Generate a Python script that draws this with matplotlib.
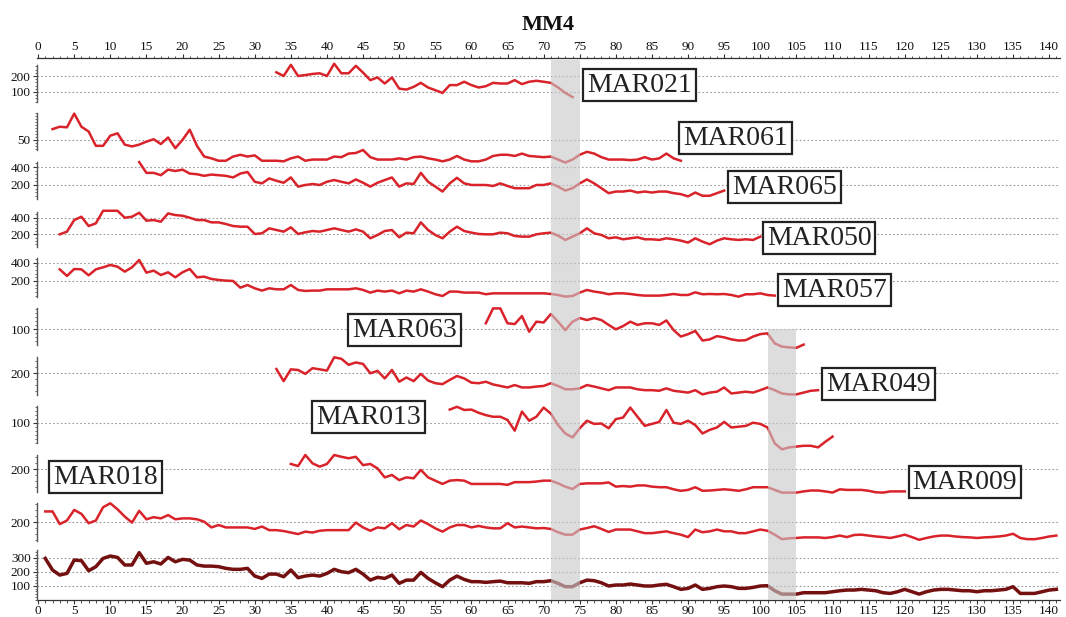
import numpy as np
import matplotlib
matplotlib.use("Agg")
import matplotlib.pyplot as plt
from matplotlib.ticker import MultipleLocator

# ---------------- data ----------------
TITLE = "MM4"
X_TICKS = list(range(0, 141, 5))

MAR021_START = 33
MAR021 = [223, 200, 270, 200, 206, 213, 217, 200, 277, 217, 217, 264, 221, 174, 191, 153, 191, 121, 115,
          132, 157, 128, 111, 94, 143, 143, 164, 143, 128, 136, 157, 153, 153, 174, 149, 164, 170, 164,
          157, 128, 94, 68]

MAR061_START = 2
MAR061 = [68, 72, 71, 94, 72, 64, 40, 40, 57, 61, 42, 39, 42, 47, 51, 43, 54, 36, 50, 67, 40, 22, 19, 15,
          15, 22, 25, 22, 24, 15, 15, 15, 14, 19, 22, 15, 17, 17, 17, 22, 21, 27, 28, 33, 21, 17, 17, 17,
          19, 17, 21, 22, 19, 17, 14, 17, 23, 17, 14, 14, 17, 23, 25, 25, 23, 27, 23, 22, 21, 22, 17, 12,
          17, 25, 30, 27, 21, 17, 17, 17, 16, 17, 21, 17, 19, 27, 19, 15]

MAR065_START = 14
MAR065 = [455, 335, 335, 309, 371, 356, 371, 327, 320, 302, 316, 309, 302, 284, 327, 345, 236, 218, 273,
          247, 225, 284, 182, 200, 211, 200, 236, 255, 236, 218, 262, 225, 182, 225, 255, 284, 182, 218,
          211, 335, 236, 182, 127, 218, 280, 218, 200, 200, 200, 189, 218, 189, 164, 164, 164, 200, 200,
          218, 182, 138, 164, 218, 262, 218, 164, 109, 127, 127, 138, 116, 127, 116, 127, 127, 109, 98,
          73, 116, 80, 80, 109, 138]

MAR050_START = 3
MAR050 = [200, 232, 372, 412, 300, 332, 484, 484, 484, 400, 412, 460, 364, 372, 352, 452, 432, 424, 400,
          372, 372, 344, 344, 324, 300, 292, 292, 204, 212, 272, 252, 232, 284, 204, 224, 240, 232, 252,
          272, 252, 232, 260, 232, 152, 192, 240, 252, 164, 220, 212, 344, 252, 192, 152, 232, 292, 240,
          220, 204, 200, 200, 220, 212, 180, 172, 172, 200, 212, 220, 184, 132, 172, 212, 272, 212, 192,
          152, 164, 140, 152, 164, 140, 140, 132, 152, 140, 124, 100, 152, 112, 80, 124, 152, 140, 132,
          140, 132, 172]

MAR057_START = 3
MAR057 = [327, 255, 331, 327, 262, 327, 349, 375, 356, 302, 349, 429, 291, 313, 265, 295, 240, 295, 331,
          240, 247, 222, 211, 204, 200, 127, 156, 120, 95, 120, 109, 109, 156, 102, 91, 95, 95, 109, 109,
          109, 109, 120, 102, 73, 95, 84, 95, 65, 95, 84, 109, 84, 55, 36, 84, 84, 73, 73, 73, 55, 65, 65,
          65, 65, 65, 65, 65, 65, 58, 47, 29, 36, 73, 102, 84, 73, 55, 65, 65, 58, 47, 40, 40, 40, 47, 58,
          47, 47, 76, 55, 58, 55, 58, 47, 29, 55, 55, 65, 47, 40]

MAR063_START = 62
MAR063 = [115, 152, 152, 115, 113, 133, 94, 119, 117, 138, 119, 98, 119, 128, 123, 128, 123, 111, 100,
          108, 119, 111, 115, 115, 111, 122, 98, 82, 88, 96, 72, 75, 83, 80, 75, 72, 73, 82, 88, 90, 65,
          57, 55, 54, 62]

MAR049_START = 33
MAR049 = [214, 174, 213, 211, 198, 217, 213, 209, 253, 248, 228, 236, 231, 200, 208, 183, 211, 172, 186,
          174, 198, 176, 167, 164, 178, 191, 183, 169, 167, 172, 163, 158, 153, 161, 153, 153, 156, 158,
          167, 158, 147, 147, 150, 161, 156, 150, 144, 153, 153, 153, 147, 144, 144, 142, 150, 142, 139,
          136, 144, 130, 136, 139, 153, 133, 136, 139, 136, 144, 153, 144, 133, 130, 130, 136, 142, 144]

MAR013_START = 57
MAR013 = [133, 140, 132, 133, 125, 119, 115, 115, 107, 80, 128, 105, 115, 138, 123, 94, 73, 63, 86, 105,
          97, 98, 86, 109, 113, 138, 115, 92, 97, 102, 132, 100, 97, 105, 94, 73, 82, 88, 102, 88, 90, 92,
          100, 97, 88, 48, 33, 38, 40, 42, 42, 38, 52, 65]

MAR009_START = 35
MAR009 = [218, 211, 248, 220, 209, 218, 248, 242, 237, 242, 214, 218, 203, 173, 181, 164, 173, 170, 198,
          173, 162, 151, 162, 164, 162, 151, 151, 151, 151, 151, 148, 157, 157, 157, 159, 162, 162, 153,
          142, 134, 151, 153, 153, 153, 156, 142, 144, 142, 146, 146, 142, 140, 140, 133, 128, 131, 140,
          128, 129, 131, 133, 131, 128, 133, 140, 140, 140, 131, 122, 122, 122, 126, 129, 129, 126, 122,
          133, 131, 131, 131, 128, 123, 122, 126, 126, 126]

MAR018_START = 1
MAR018 = [236, 236, 194, 206, 241, 228, 197, 206, 250, 263, 243, 219, 199, 238, 210, 217, 213, 224, 210,
          213, 213, 210, 202, 183, 191, 183, 183, 183, 183, 178, 186, 174, 174, 171, 166, 161, 169, 166,
          172, 174, 174, 174, 174, 199, 183, 172, 183, 180, 197, 177, 191, 186, 206, 194, 180, 169, 183,
          191, 191, 183, 188, 183, 180, 180, 197, 183, 186, 183, 180, 181, 178, 167, 159, 159, 176, 181,
          187, 178, 168, 176, 176, 176, 170, 164, 164, 167, 170, 164, 159, 151, 176, 167, 170, 176, 170,
          170, 164, 164, 170, 176, 172, 159, 144, 147, 148, 150, 150, 150, 148, 151, 156, 151, 158, 159,
          156, 153, 151, 148, 153, 159, 151, 142, 148, 153, 156, 156, 153, 151, 150, 148, 150, 151, 153,
          156, 162, 148, 144, 144, 148, 153, 156]

MM4_START = 1
MM4 = [295, 212, 176, 188, 283, 279, 207, 236, 295, 312, 302, 248, 248, 336, 260, 271, 255, 302, 271,
       288, 283, 248, 240, 240, 236, 224, 217, 217, 224, 169, 152, 183, 183, 164, 212, 157, 169, 176, 169,
       188, 217, 200, 193, 217, 183, 140, 160, 152, 176, 117, 140, 140, 195, 152, 121, 93, 140, 169, 145,
       129, 129, 124, 129, 133, 121, 121, 121, 117, 129, 129, 136, 117, 93, 93, 121, 140, 136, 121, 98,
       105, 105, 112, 105, 98, 98, 105, 110, 93, 74, 81, 105, 74, 81, 93, 98, 93, 81, 81, 88, 98, 100,
       64, 40, 40, 40, 50, 50, 50, 50, 57, 64, 69, 69, 74, 69, 64, 50, 45, 57, 74, 57, 40, 57, 69, 74,
       74, 69, 64, 64, 57, 64, 64, 69, 74, 93, 45, 45, 45, 57, 69, 74]

# track name, start, values, y-limits, y-ticks
TRACKS = [
    ("MAR021", MAR021_START, MAR021, (37, 269), [100, 200]),
    ("MAR061", MAR061_START, MAR061, (33, 95), [50]),
    ("MAR065", MAR065_START, MAR065, (44, 456), [200, 400]),
    ("MAR050", MAR050_START, MAR050, (47, 469), [200, 400]),
    ("MAR057", MAR057_START, MAR057, (25, 451), [200, 400]),
    ("MAR063", MAR063_START, MAR063, (61, 153), [100]),
    ("MAR049", MAR049_START, MAR049, (128, 254), [200]),
    ("MAR013", MAR013_START, MAR013, (49, 142), [100]),
    ("MAR009", MAR009_START, MAR009, (124, 248), [200]),
    ("MAR018", MAR018_START, MAR018, (138, 264), [200]),
    ("MM4", MM4_START, MM4, (-2, 355), [100, 200, 300]),
]

BANDS = [(71, 75), (101, 105)]

# ---------------- layout (pixels) ----------------
W, H = 1066, 617
LEFT_PX, RIGHT_PX = 37, 1060
TOP_PX, BOT_PX = 58, 600
TRACK_PX = [(65, 102), (113, 150), (162, 199), (212, 247), (258, 297), (308, 345),
            (357, 395), (406, 443), (455, 492), (503, 541), (550, 600)]
BAND_TOP_PX = [60, 329]
LABEL_POS = {  # left edge (data x), centre (pixel row)
    "MAR021": (76.0, 85), "MAR061": (89.3, 138), "MAR065": (96.1, 187), "MAR050": (100.9, 238),
    "MAR057": (103.0, 290), "MAR063": (43.5, 330), "MAR049": (109.1, 384), "MAR013": (38.5, 417),
    "MAR009": (121.1, 482), "MAR018": (2.1, 477),
}
XLIM = (-0.15, 141.5)
RED = "#d9232b"
DARK = "#741010"
SERIF = ["Liberation Serif", "DejaVu Serif"]

plt.rcParams["font.family"] = SERIF


def rect(top_px, bot_px):
    return [LEFT_PX / W, 1 - bot_px / H, (RIGHT_PX - LEFT_PX) / W, (bot_px - top_px) / H]


fig = plt.figure(figsize=(W / 100, H / 100), dpi=100)

# background axes carrying the x axis (top & bottom)
bg = fig.add_axes(rect(TOP_PX, BOT_PX), zorder=0)
bg.set_xlim(*XLIM)
bg.set_ylim(0, 1)
bg.set_yticks([])
for s in ("left", "right"):
    bg.spines[s].set_visible(False)
for s in ("top", "bottom"):
    bg.spines[s].set_color("#333333")
    bg.spines[s].set_linewidth(0.9)
bg.set_xticks(X_TICKS)
bg.xaxis.set_minor_locator(MultipleLocator(1))
bg.tick_params(axis="x", which="both", top=True, bottom=True, labeltop=True, labelbottom=True,
               direction="out", colors="#333333", labelsize=9.5, pad=0.5)
bg.tick_params(axis="x", which="major", length=3, width=0.8)
bg.tick_params(axis="x", which="minor", length=1.8, width=0.6)
for lab in bg.get_xticklabels():
    lab.set_color("#111111")
bg.set_title(TITLE, fontsize=16, fontweight="bold", pad=20, color="#111111")

# one axes per track
for i, (name, start, vals, ylim, yt) in enumerate(TRACKS):
    t, b = TRACK_PX[i]
    ax = fig.add_axes(rect(t, b), zorder=1)
    ax.patch.set_alpha(0)
    x = np.arange(start, start + len(vals))
    is_mm4 = name == "MM4"
    ax.plot(x, vals, color=DARK if is_mm4 else RED, lw=2.5 if is_mm4 else 1.8,
            clip_on=False, solid_joinstyle="round", zorder=3)
    ax.set_xlim(*XLIM)
    ax.set_ylim(*ylim)
    ax.set_yticks(yt)
    step = yt[1] - yt[0] if len(yt) > 1 else yt[0] / 2
    ax.yaxis.set_minor_locator(MultipleLocator(step / 5))
    ax.set_xticks([])
    for s in ("top", "right", "bottom"):
        ax.spines[s].set_visible(False)
    ax.spines["left"].set_color("#555555")
    ax.spines["left"].set_linewidth(1.0)
    ax.tick_params(axis="y", which="major", length=3, width=0.8, labelsize=9.5, pad=1.5,
                   colors="#333333")
    ax.tick_params(axis="y", which="minor", length=1.5, width=0.6, colors="#555555")
    for lab in ax.get_yticklabels():
        lab.set_color("#111111")
    ax.grid(axis="y", which="major", linestyle=(0, (1.5, 2)), color="#9a9a9a", lw=0.8)

# overlay axes for the shaded bands and labels (pixel rows vertically)
ov = fig.add_axes(rect(TOP_PX, BOT_PX), zorder=5)
ov.patch.set_alpha(0)
ov.set_xlim(*XLIM)
ov.set_ylim(BOT_PX, TOP_PX)
ov.axis("off")
for (x0, x1), top in zip(BANDS, BAND_TOP_PX):
    ov.fill_between([x0, x1], [top, top], [BOT_PX, BOT_PX], color="#c8c8c8", alpha=0.62,
                    lw=0, zorder=1)
for name, (lx, cy) in LABEL_POS.items():
    ov.text(lx, cy, name, fontsize=20, color="#222222", ha="left", va="center", zorder=5,
            bbox=dict(boxstyle="square,pad=0.14", fc="white", ec="#222222", lw=1.6))

fig.savefig("out.png", dpi=100)
